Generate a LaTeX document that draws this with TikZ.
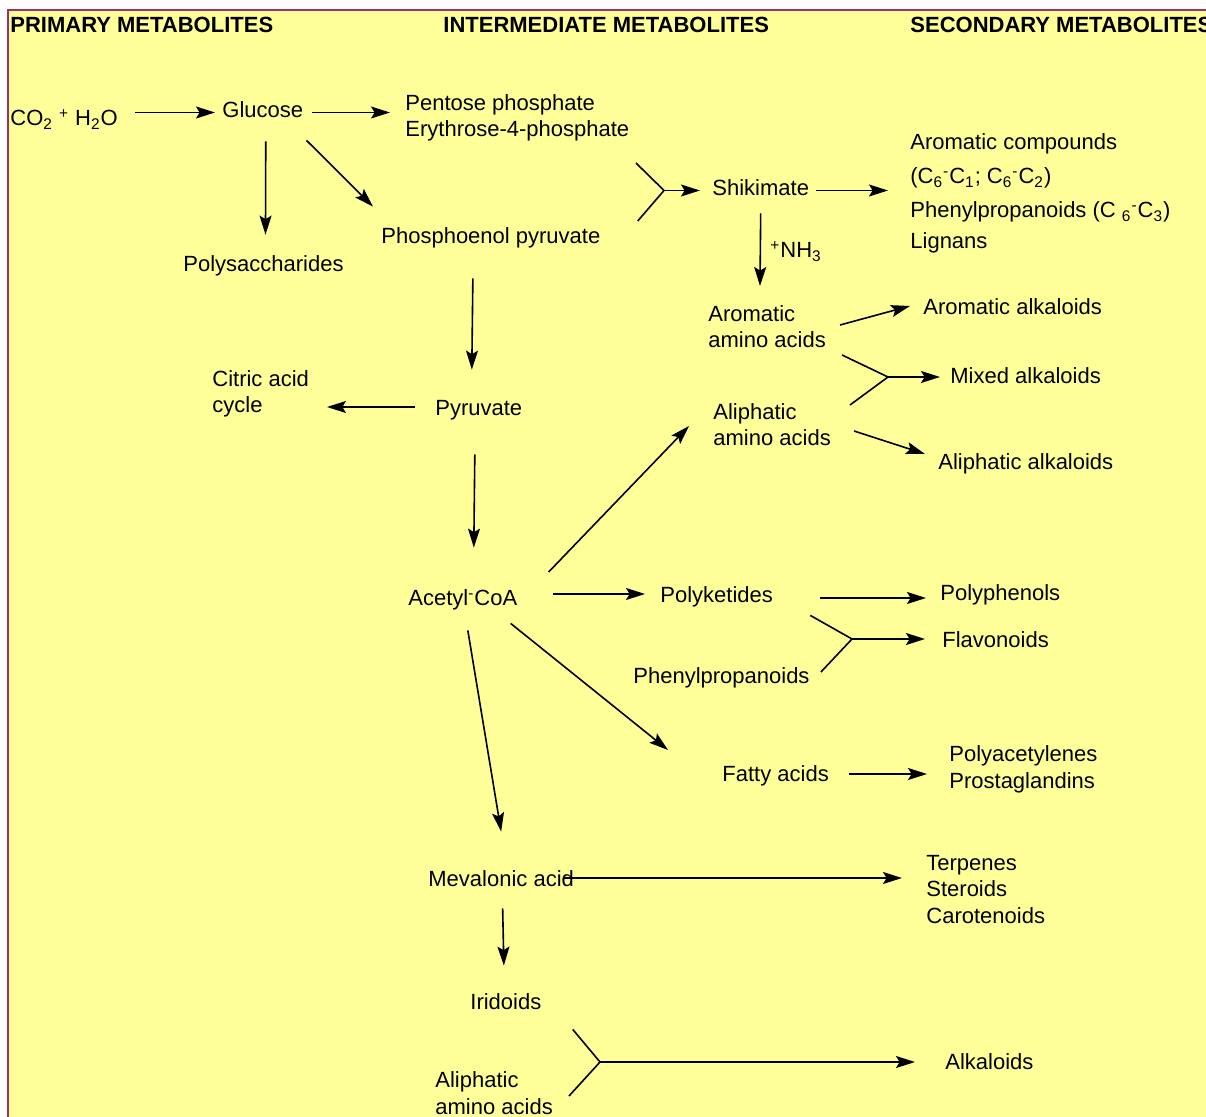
\documentclass[tikz,border=0pt]{standalone}
\usepackage{fontspec}
\setmainfont{Liberation Sans}
\usetikzlibrary{arrows.meta,calc}
\definecolor{pale}{RGB}{255,255,153}
\definecolor{edgepurple}{RGB}{153,51,102}
\begin{document}
\begin{tikzpicture}[x=0.5pt,y=-0.5pt,
		txt/.style={anchor=base west,inner sep=0pt,text height=8pt,text depth=2.5pt,font=\fontsize{11}{13.25}\selectfont},
		txts/.style={anchor=base west,inner sep=0pt,align=left,font=\fontsize{11}{13.25}\selectfont},
		head/.style={anchor=base west,inner sep=0pt,font=\fontsize{11}{13.25}\selectfont\bfseries},
		arr/.style={line width=0.8pt,-{Stealth[length=9.5pt,width=6pt,inset=1.8pt]}},
		arm/.style={line width=0.8pt}]
		\useasboundingbox (0,0) rectangle (1206,1117);
		\fill[white] (0,0) rectangle (1206,1117);
		\draw[edgepurple,line width=1pt,fill=pale] (8,10) rectangle (1230,1140);
		% column titles
		\node[head] (hprim) at (10,33) {PRIMARY METABOLITES};
		\node[head] (hinter) at (443,33) {INTERMEDIATE METABOLITES};
		\node[head] (hsec) at (910,33) {SECONDARY METABOLITES};
		% compounds (multi-line nodes sit on their last line)
		\node[txt] (co2) at (10,126) {CO\textsubscript{2} \textsuperscript{+} H\textsubscript{2}O};
		\node[txt] (glucose) at (222,118) {Glucose};
		\node[txts] (pentose) at (405,137) {Pentose phosphate\\Erythrose-4-phosphate};
		\node[txt] (polysacch) at (183,272) {Polysaccharides};
		\node[txt] (pep) at (381,244) {Phosphoenol pyruvate};
		\node[txt] (shikimate) at (712,196) {Shikimate};
		\node[txts] (arom) at (910,249) {Aromatic compounds\\[3.75pt](C\textsubscript{6}\textsuperscript{-}C\textsubscript{1}; C\textsubscript{6}\textsuperscript{-}C\textsubscript{2})\\[3.75pt]Phenylpropanoids (C \textsubscript{6}\textsuperscript{-}C\textsubscript{3})\\[2.25pt]Lignans};
		\node[txt] (nh3) at (770,258) {\textsuperscript{+}NH\textsubscript{3}};
		\node[txts] (aroaa) at (708,348) {Aromatic\\amino acids};
		\node[txts] (aliaa) at (713,446) {Aliphatic\\amino acids};
		\node[txt] (aroalk) at (923,315) {Aromatic alkaloids};
		\node[txt] (mixalk) at (950,384) {Mixed alkaloids};
		\node[txt] (alialk) at (938,470) {Aliphatic alkaloids};
		\node[txts] (citric) at (212,413) {Citric acid\\cycle};
		\node[txt] (pyruvate) at (435,416) {Pyruvate};
		\node[txt] (acetyl) at (408,606) {Acetyl\textsuperscript{-}CoA};
		\node[txt] (polyket) at (660,603) {Polyketides};
		\node[txt] (polyphen) at (940,601) {Polyphenols};
		\node[txt] (flavon) at (942,647) {Flavonoids};
		\node[txt] (phenylp) at (633,683) {Phenylpropanoids};
		\node[txt] (fatty) at (722,781) {Fatty acids};
		\node[txts] (polyacet) at (949,788) {Polyacetylenes\\Prostaglandins};
		\node[txt] (mevalonic) at (428,886) {Mevalonic acid};
		\node[txts] (terpenes) at (926,923) {Terpenes\\Steroids\\Carotenoids};
		\node[txt] (iridoids) at (470,1009) {Iridoids};
		\node[txt] (alkaloids) at (945,1069) {Alkaloids};
		\node[txts] (aliaa2) at (435,1114) {Aliphatic\\amino acids};
		% junctions of the merging arrows
		\coordinate (jshik) at ($(shikimate.west)+(-48,0)$);
		\coordinate (jmix) at ($(mixalk.west)+(-62,-1.5)$);
		\coordinate (jflav) at ($(flavon.west)+(-90,-2.5)$);
		\coordinate (jalk) at ($(alkaloids.west)+(-345,-1.5)$);
		% pathways
		\draw[arr] ($(co2.east)+(17,-8)$) -- ($(glucose.west)+(-7,0)$);
		\draw[arr] ($(glucose.east)+(8,0)$) -- ($(pentose.base west)+(-15,-24.5)$);
		\draw[arr] ($(glucose.south)+(3,18)$) -- ($(polysacch.north)+(2,-21)$);
		\draw[arr] ($(glucose.south east)+(3,17)$) -- ($(pep.north west)+(-8,-21)$);
		\draw[arm] ($(pentose.base west)+(231,26)$) -- (jshik) -- ($(pep.east)+(37,-17.5)$);
		\draw[arr] (jshik) -- ($(shikimate.west)+(-12,0)$);
		\draw[arr] ($(shikimate.east)+(7,0)$) -- ($(arom.base west)+(-22,-58.5)$);
		\draw[arr] ($(shikimate.south)+(0,12)$) -- ($(aroaa.base west)+(52,-62)$);
		\draw[arr] ($(pep.south)+(-18,29)$) -- ($(pyruvate.north)+(-7,-30)$);
		\draw[arr] ($(pyruvate.west)+(-20,-3.5)$) -- ($(citric.base west)+(115,-6)$);
		\draw[arr] ($(pyruvate.south)+(-4,33)$) -- ($(acetyl.north)+(11,-42)$);
		\draw[arr] ($(acetyl.east)+(31,-28.5)$) -- ($(aliaa.base west)+(-24,-20)$);
		\draw[arr] ($(acetyl.east)+(35,-6.5)$) -- ($(polyket.west)+(-15,-3.5)$);
		\draw[arr] ($(acetyl.south east)+(-7,12)$) -- ($(fatty.west)+(-54,-25.5)$);
		\draw[arr] ($(acetyl.south)+(5,19)$) -- ($(mevalonic.north)+(0,-38)$);
		\draw[arr] ($(aroaa.base west)+(132,-23)$) -- ($(aroalk.west)+(-13,-3.5)$);
		\draw[arm] ($(aroaa.base west)+(134,7)$) -- (jmix) -- ($(aliaa.base west)+(137,-41)$);
		\draw[arr] (jmix) -- ($(mixalk.west)+(-10,-1.5)$);
		\draw[arr] ($(aliaa.base west)+(141,-15)$) -- ($(alialk.west)+(-13,-10.5)$);
		\draw[arr] ($(polyket.east)+(47,0.5)$) -- ($(polyphen.west)+(-14,2.5)$);
		\draw[arm] ($(polyket.south east)+(37,7)$) -- (jflav) -- ($(phenylp.east)+(11,-5.5)$);
		\draw[arr] (jflav) -- ($(flavon.west)+(-17,-2.5)$);
		\draw[arr] ($(fatty.east)+(20,-1.5)$) -- ($(polyacet.base west)+(-22,-14)$);
		\draw[arr] ($(mevalonic.east)+(-11,-2.5)$) -- ($(terpenes.base west)+(-24,-45)$);
		\draw[arr] ($(mevalonic.south)+(1.5,17)$) -- ($(iridoids.north)+(-2,-27)$);
		\draw[arm] ($(iridoids.south east)+(31,15)$) -- (jalk) -- ($(aliaa2.base west)+(134,-18)$);
		\draw[arr] (jalk) -- ($(alkaloids.west)+(-30,-1.5)$);
	\end{tikzpicture}
\end{document}
